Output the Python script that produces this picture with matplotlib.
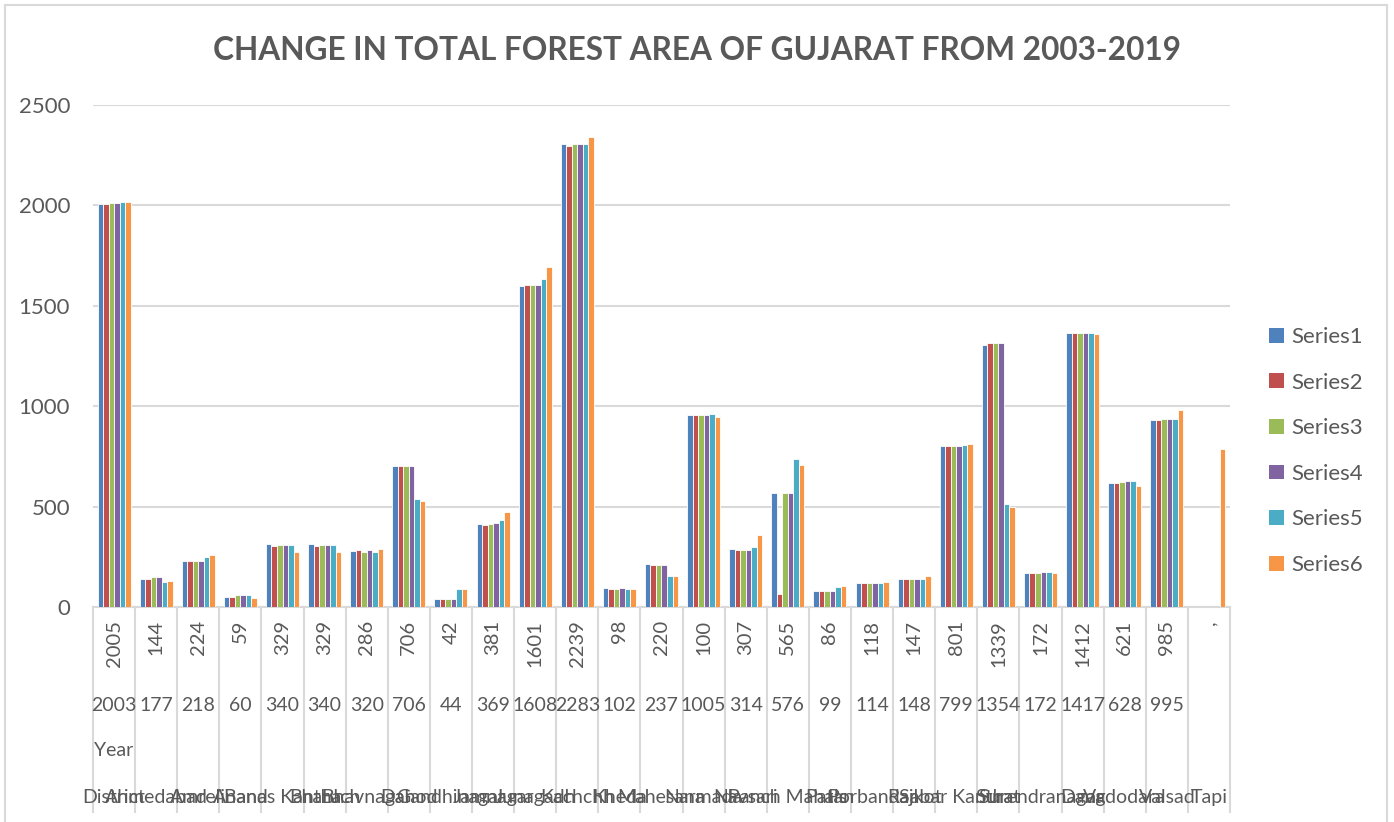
import matplotlib
matplotlib.use("Agg")
import matplotlib.pyplot as plt
from matplotlib.patches import Patch, Rectangle
from matplotlib.lines import Line2D
from matplotlib.transforms import blended_transform_factory
import numpy as np

plt.rcParams['font.family'] = ['Lato', 'DejaVu Sans']

# category axis, three label levels plus the district names
level1 = ['2005', '144', '224', '59', '329', '329', '286', '706', '42', '381', '1601', '2239', '98',
          '220', '100', '307', '565', '86', '118', '147', '801', '1339', '172', '1412', '621', '985', ',']
level2 = ['2003', '177', '218', '60', '340', '340', '320', '706', '44', '369', '1608', '2283', '102',
          '237', '1005', '314', '576', '99', '114', '148', '799', '1354', '172', '1417', '628', '995', '']
level3 = ['Year'] + [''] * 26
districts = ['District', 'Ahmedabad', 'Amreli', 'Anand', 'Banas Kantha', 'Bharuch', 'Bhavnagar', 'Dahod',
             'Gandhinagar', 'Jamnagar', 'Junagadh', 'Kachchh', 'Kheda', 'Mahesana', 'Narmada', 'Navsari',
             'Panch Mahals', 'Patan', 'Porbandar', 'Rajkot', 'Sabar Kantha', 'Surat', 'Surendranagar',
             'Dang', 'Vadodara', 'Valsad', 'Tapi']

series1 = [2005, 141, 229, 50, 316, 316, 279, 701, 40, 412, 1599, 2308, 94, 213, 955, 287, 568, 81, 118, 140, 802, 1304, 171, 1365, 620, 933, 0]
series2 = [2008, 141, 229, 50, 306, 306, 284, 703, 40, 410, 1605, 2298, 92, 210, 955, 286, 67, 81, 119, 140, 802, 1316, 171, 1365, 620, 933, 0]
series3 = [2011, 150, 230, 59, 309, 309, 276, 701, 40, 415, 1605, 2308, 92, 210, 955, 286, 568, 82, 121, 140, 803, 1316, 171, 1365, 622, 935, 0]
series4 = [2013, 148, 230, 59, 309, 309, 282, 701, 40, 420, 1602, 2305, 94, 210, 955, 286, 568, 82, 121, 140, 803, 1316, 175, 1365, 625, 936, 0]
series5 = [2015, 126, 249, 61, 311, 311, 276, 536, 91, 434, 1631, 2308, 92, 156, 960, 299, 735, 101, 121, 140, 805, 513, 175, 1365, 625, 936, 0]
series6 = [2017, 128, 257, 47, 276, 276, 291, 528, 91, 471, 1691, 2343, 92, 156, 946, 358, 709, 103, 124, 153, 814, 498, 171, 1360, 602, 983, 788]

series = [series1, series2, series3, series4, series5, series6]
names = ['Series1', 'Series2', 'Series3', 'Series4', 'Series5', 'Series6']
colors = ['#4F81BD', '#C0504D', '#9BBB59', '#8064A2', '#4BACC6', '#F79646']

W, H = 1394, 822
text_col = '#595959'
grid_col = '#D9D9D9'

fig = plt.figure(figsize=(W / 100, H / 100), dpi=100)
ax = fig.add_axes([93 / W, (H - 607) / H, (1230 - 93) / W, (607 - 105) / H])

x = np.arange(len(level1))
group = 0.785
bw = group / len(series)
for i, (vals, c) in enumerate(zip(series, colors)):
    ax.bar(x - group / 2 + bw * (i + 0.5), vals, width=bw, color=c,
           edgecolor='white', linewidth=0.6, zorder=3)

ax.set_xlim(-0.5, len(level1) - 0.5)
ax.set_ylim(0, 2500)
ax.set_yticks(range(0, 2501, 500))
ax.grid(axis='y', color=grid_col, linewidth=1.5, zorder=0)
ax.set_xticks([])
for s in ['top', 'right', 'left']:
    ax.spines[s].set_visible(False)
ax.spines['bottom'].set_color(grid_col)
ax.spines['bottom'].set_linewidth(1.5)
ax.tick_params(axis='y', length=0, pad=16.5, labelsize=16, labelcolor=text_col)

# multi-level category labels below the axis
tr = blended_transform_factory(ax.transData, fig.transFigure)
for k in range(len(level1) + 1):
    ax.add_line(Line2D([k - 0.5, k - 0.5], [(H - 607) / H, (H - 812) / H], transform=tr,
                       color=grid_col, linewidth=1.5, clip_on=False))
for k in range(len(level1)):
    ax.text(k, (H - 620) / H, level1[k], transform=tr, rotation=90, ha='center', va='top',
            fontsize=14.5, color=text_col)
    ax.text(k, (H - 705) / H, level2[k], transform=tr, ha='center', va='center',
            fontsize=14, color=text_col)
    ax.text(k, (H - 750) / H, level3[k], transform=tr, ha='center', va='center',
            fontsize=14, color=text_col)
    ax.text(k, (H - 797) / H, districts[k], transform=tr, ha='center', va='center',
            fontsize=14, color=text_col)

fig.text(697 / W, 1 - 51 / H, 'CHANGE IN TOTAL FOREST AREA OF GUJARAT FROM 2003-2019',
         ha='center', va='center', fontsize=22.8, fontweight='bold', color=text_col)

handles = [Patch(facecolor=c, edgecolor='none') for c in colors]
fig.legend(handles, names, loc='center left', bbox_to_anchor=(1258 / W, 1 - 451 / H),
           frameon=False, fontsize=16, labelcolor=text_col, handlelength=0.65,
           handleheight=0.65, handletextpad=0.35, labelspacing=1.15, borderpad=0)

# chart area border
fig.add_artist(Rectangle((5 / W, -0.05), (1387 - 5) / W, 1.05 - 5 / H, transform=fig.transFigure,
                         fill=False, edgecolor=grid_col, linewidth=1.5))

fig.savefig('out.png', dpi=100)
